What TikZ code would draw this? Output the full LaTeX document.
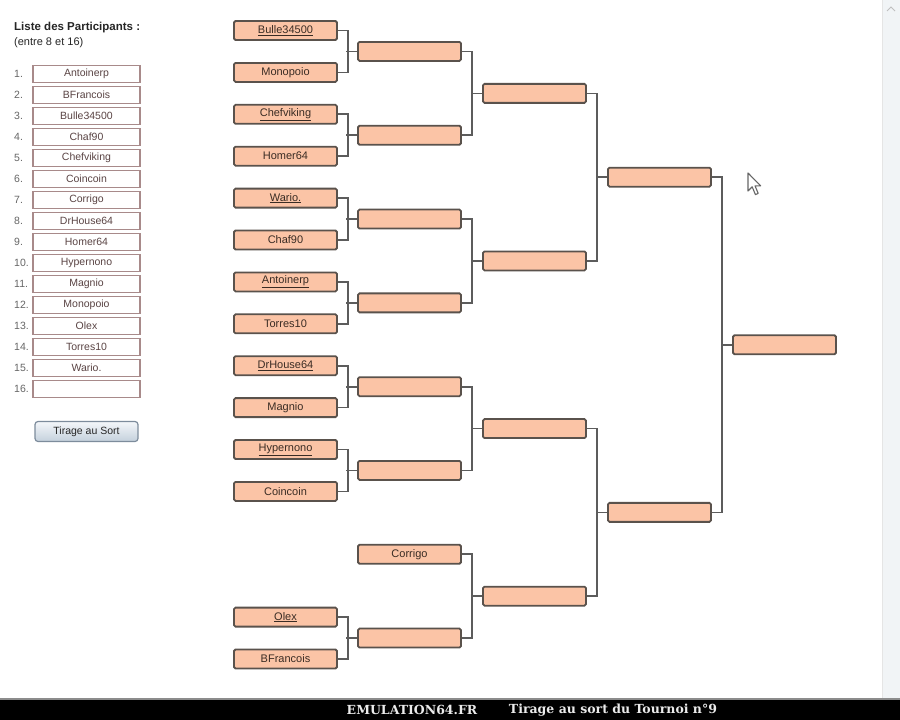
\documentclass[tikz,border=0pt]{standalone}
\usepackage{fontspec}
\setmainfont{Liberation Sans}
\newfontfamily\bannerfont{DejaVu Serif}
\usetikzlibrary{calc}
\definecolor{boxfill}{HTML}{FBC4A6}
\definecolor{boxline}{HTML}{5A524C}
\definecolor{boxtext}{HTML}{3A2C24}
\definecolor{connline}{HTML}{5C5C5C}
\definecolor{listline}{HTML}{A88A8A}
\definecolor{listtext}{HTML}{5A4444}
\definecolor{btntop}{HTML}{F4F7FA}
\definecolor{btnbot}{HTML}{C4D0DC}
\definecolor{btnline}{HTML}{7D8C9C}
\definecolor{scrollfill}{HTML}{F1F4F6}
\tikzset{
  matchbox/.style={rectangle, rounded corners=1.5pt, fill=boxfill, draw=boxline, line width=1.8pt,
    minimum width=103pt, minimum height=19pt, inner sep=0pt, text=boxtext, font=\fontsize{11}{12}\selectfont},
  conn/.style={draw=connline, line width=1.7pt},
  listbox/.style={rectangle, draw=listline, line width=1.3pt, fill=white, minimum width=107pt,
    minimum height=16.5pt, inner sep=0pt, text=listtext, font=\fontsize{10.5}{12}\selectfont},
  listnum/.style={anchor=west, inner sep=0pt, text=black!60, font=\fontsize{10.5}{12}\selectfont},
  titletext/.style={anchor=west, inner sep=0pt, text=black!85, font=\fontsize{11}{13}\selectfont},
}
\newcommand\joinpair[3]{%
  \draw[conn] (#1.east) -- ++(10,0) |- (#2.east);
  \draw[conn] (#3.west) -- ++(-11,0);}
\begin{document}
\begin{tikzpicture}[x=1pt,y=-1pt]
\useasboundingbox (0,0) rectangle (900,720);
\fill[white] (0,0) rectangle (900,720);
% scrollbar
\fill[scrollfill] (882,0) rectangle (900,698);
\draw[black!10, line width=0.8pt] (882,0) -- (882,698);
\draw[black!25, line width=1pt] (887,11) -- (891,7) -- (895,11);
% left panel
\node[titletext, font=\bfseries\fontsize{11.5}{13}\selectfont] (title) at (14,28) {Liste des Participants :};
\node[titletext] (subtitle) at (14,43) {(entre 8 et 16)};
\foreach \i/\n in {1/Antoinerp,2/BFrancois,3/Bulle34500,4/Chaf90,5/Chefviking,6/Coincoin,7/Corrigo,8/DrHouse64,9/Homer64,10/Hypernono,11/Magnio,12/Monopoio,13/Olex,14/Torres10,15/Wario.,16/{}}{
  \node[listnum] (num\i) at (14,{74+21*(\i-1)}) {\i.};
  \node[listbox] (entry\i) at (86.5,{74+21*(\i-1)}) {\n};
}
\node[rectangle, rounded corners=3pt, top color=btntop, bottom color=btnbot, draw=btnline, line width=1.2pt,
  minimum width=103pt, minimum height=20pt, inner sep=0pt, font=\fontsize{10.5}{12}\selectfont, text=black!85]
  (btn) at (86.5,431.5) {Tirage au Sort};
% round 1
\foreach \k/\n in {0/\underline{Bulle34500},1/Monopoio,2/\underline{Chefviking},3/Homer64,4/\underline{Wario.},5/Chaf90,6/\underline{Antoinerp},7/Torres10,8/\underline{DrHouse64},9/Magnio,10/\underline{Hypernono},11/Coincoin,14/\underline{Olex},15/BFrancois}{
  \node[matchbox] (a\k) at (285.5,{30.5+41.9*\k}) {\n};
}
% round 2
\foreach \j in {0,1,2,3,4,5,7}{
  \node[matchbox] (b\j) at (409.5,{51.45+83.8*\j}) {};
}
\node[matchbox] (b6) at (409.5,{51.45+83.8*6}) {Corrigo};
% round 3
\foreach \j in {0,1,2,3}{
  \node[matchbox] (c\j) at (534.5,{93.35+167.6*\j}) {};
}
% round 4
\foreach \j in {0,1}{
  \node[matchbox] (d\j) at (659.5,{177.15+335.2*\j}) {};
}
% final
\node[matchbox] (e0) at (784.5,344.75) {};
% connectors
\joinpair{a0}{a1}{b0}
\joinpair{a2}{a3}{b1}
\joinpair{a4}{a5}{b2}
\joinpair{a6}{a7}{b3}
\joinpair{a8}{a9}{b4}
\joinpair{a10}{a11}{b5}
\joinpair{a14}{a15}{b7}
\joinpair{b0}{b1}{c0}
\joinpair{b2}{b3}{c1}
\joinpair{b4}{b5}{c2}
\joinpair{b6}{b7}{c3}
\joinpair{c0}{c1}{d0}
\joinpair{c2}{c3}{d1}
\joinpair{d0}{d1}{e0}
% cursor
\draw[black!60, fill=white, line width=1.1pt, line join=round]
  (748,173) -- (748,191) -- (752.2,186.8) -- (755.4,194.6) -- (758.2,193.4) -- (755,185.8) -- (760.6,185.8) -- cycle;
% bottom bar
\fill[black!45] (0,697.5) rectangle (900,700);
\fill[black] (0,700) rectangle (900,720);
\node[inner sep=0pt, text=white!92!black, font=\bannerfont\bfseries\fontsize{12.5}{14}\selectfont] (site) at (412,710) {EMULATION64.FR};
\node[inner sep=0pt, text=white!92!black, font=\bannerfont\bfseries\fontsize{12.5}{14}\selectfont] (caption) at (613,710) {Tirage au sort du Tournoi n°9};
\end{tikzpicture}
\end{document}
